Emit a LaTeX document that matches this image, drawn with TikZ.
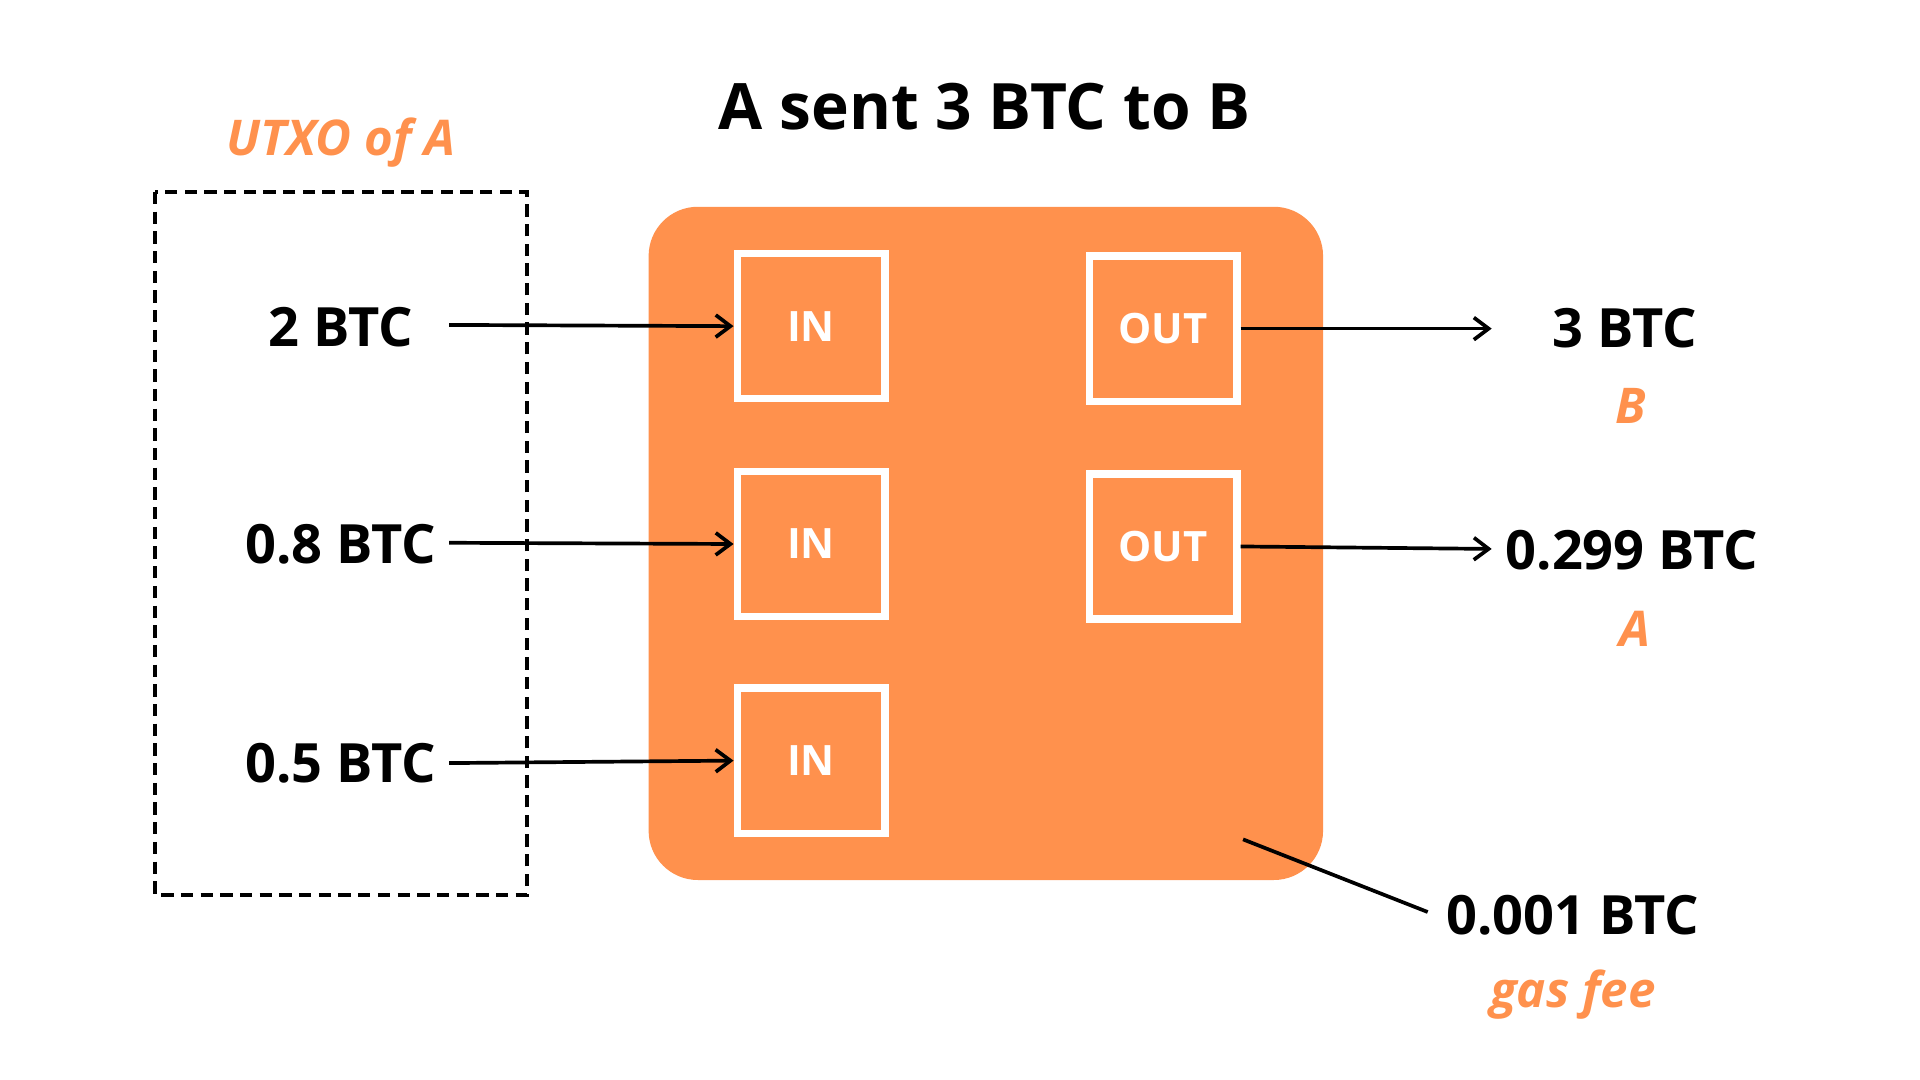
\documentclass[tikz,border=0pt]{standalone}
\usepackage{fontspec}
\setmainfont{Open Sans}
\usetikzlibrary{arrows.meta}
\definecolor{org}{HTML}{FF914D}
\begin{document}
\begin{tikzpicture}[x=0.5pt,y=-0.5pt,
  lbl/.style={font=\fontsize{22}{26}\selectfont\bfseries},
  olbl/.style={font=\fontsize{20}{24}\selectfont\bfseries\itshape,text=org},
  box/.style={draw=white,line width=3pt,minimum width=60pt,minimum height=59pt,inner sep=0pt,text=white,font=\fontsize{17}{20}\selectfont\bfseries},
  arr/.style={line width=1.5pt,-{Stealth[length=8pt,width=7pt,inset=0pt,open]}},
  arr/.style={line width=1.5pt,-{Straight Barb[length=6pt,width=9pt]}}]
\useasboundingbox (0,0) rectangle (1560,877.5);
\node[font=\fontsize{26}{30}\selectfont\bfseries] (title) at (800,87) {A sent 3 BTC to B};
\node[olbl] (utxo) at (277,116) {UTXO of A};
\draw[dashed,line width=1.5pt,dash pattern=on 5pt off 3pt] (126,156) rectangle (428,727);
\fill[org,rounded corners=20pt] (527,168) rectangle (1075,715);
\node[lbl] (a1) at (277,266) {2 BTC};
\node[lbl] (a2) at (277,442) {0.8 BTC};
\node[lbl] (a3) at (277,620) {0.5 BTC};
\node[box] (in1) at (659,265) {IN};
\node[box] (in2) at (659,442) {IN};
\node[box] (in3) at (659,618) {IN};
\node[box] (out1) at (945,267) {OUT};
\node[box] (out2) at (945,444) {OUT};
\coordinate (s1) at (365,264);
\coordinate (s2) at (365,441);
\coordinate (s3) at (365,620);
\draw[arr] (s1) -- (in1.west);
\draw[arr] (s2) -- (in2.west);
\draw[arr] (s3) -- (in3.west);
\coordinate (e1) at (1212,267);
\coordinate (e2) at (1212,446);
\draw[arr] (out1.east) -- (e1);
\draw[arr] (out2.east) -- (e2);
\node[lbl] (b1) at (1320,267) {3 BTC};
\node[olbl] (b1n) at (1325,330) {B};
\node[lbl] (b2) at (1326,447) {0.299 BTC};
\node[olbl] (b2n) at (1328,511) {A};
\coordinate (f0) at (1010,682);
\node[lbl] (fee) at (1278,744) {0.001 BTC};
\node[olbl] (feen) at (1278,808) {gas fee};
\draw[line width=1.5pt] (f0) -- (1160,741);
\end{tikzpicture}
\end{document}
